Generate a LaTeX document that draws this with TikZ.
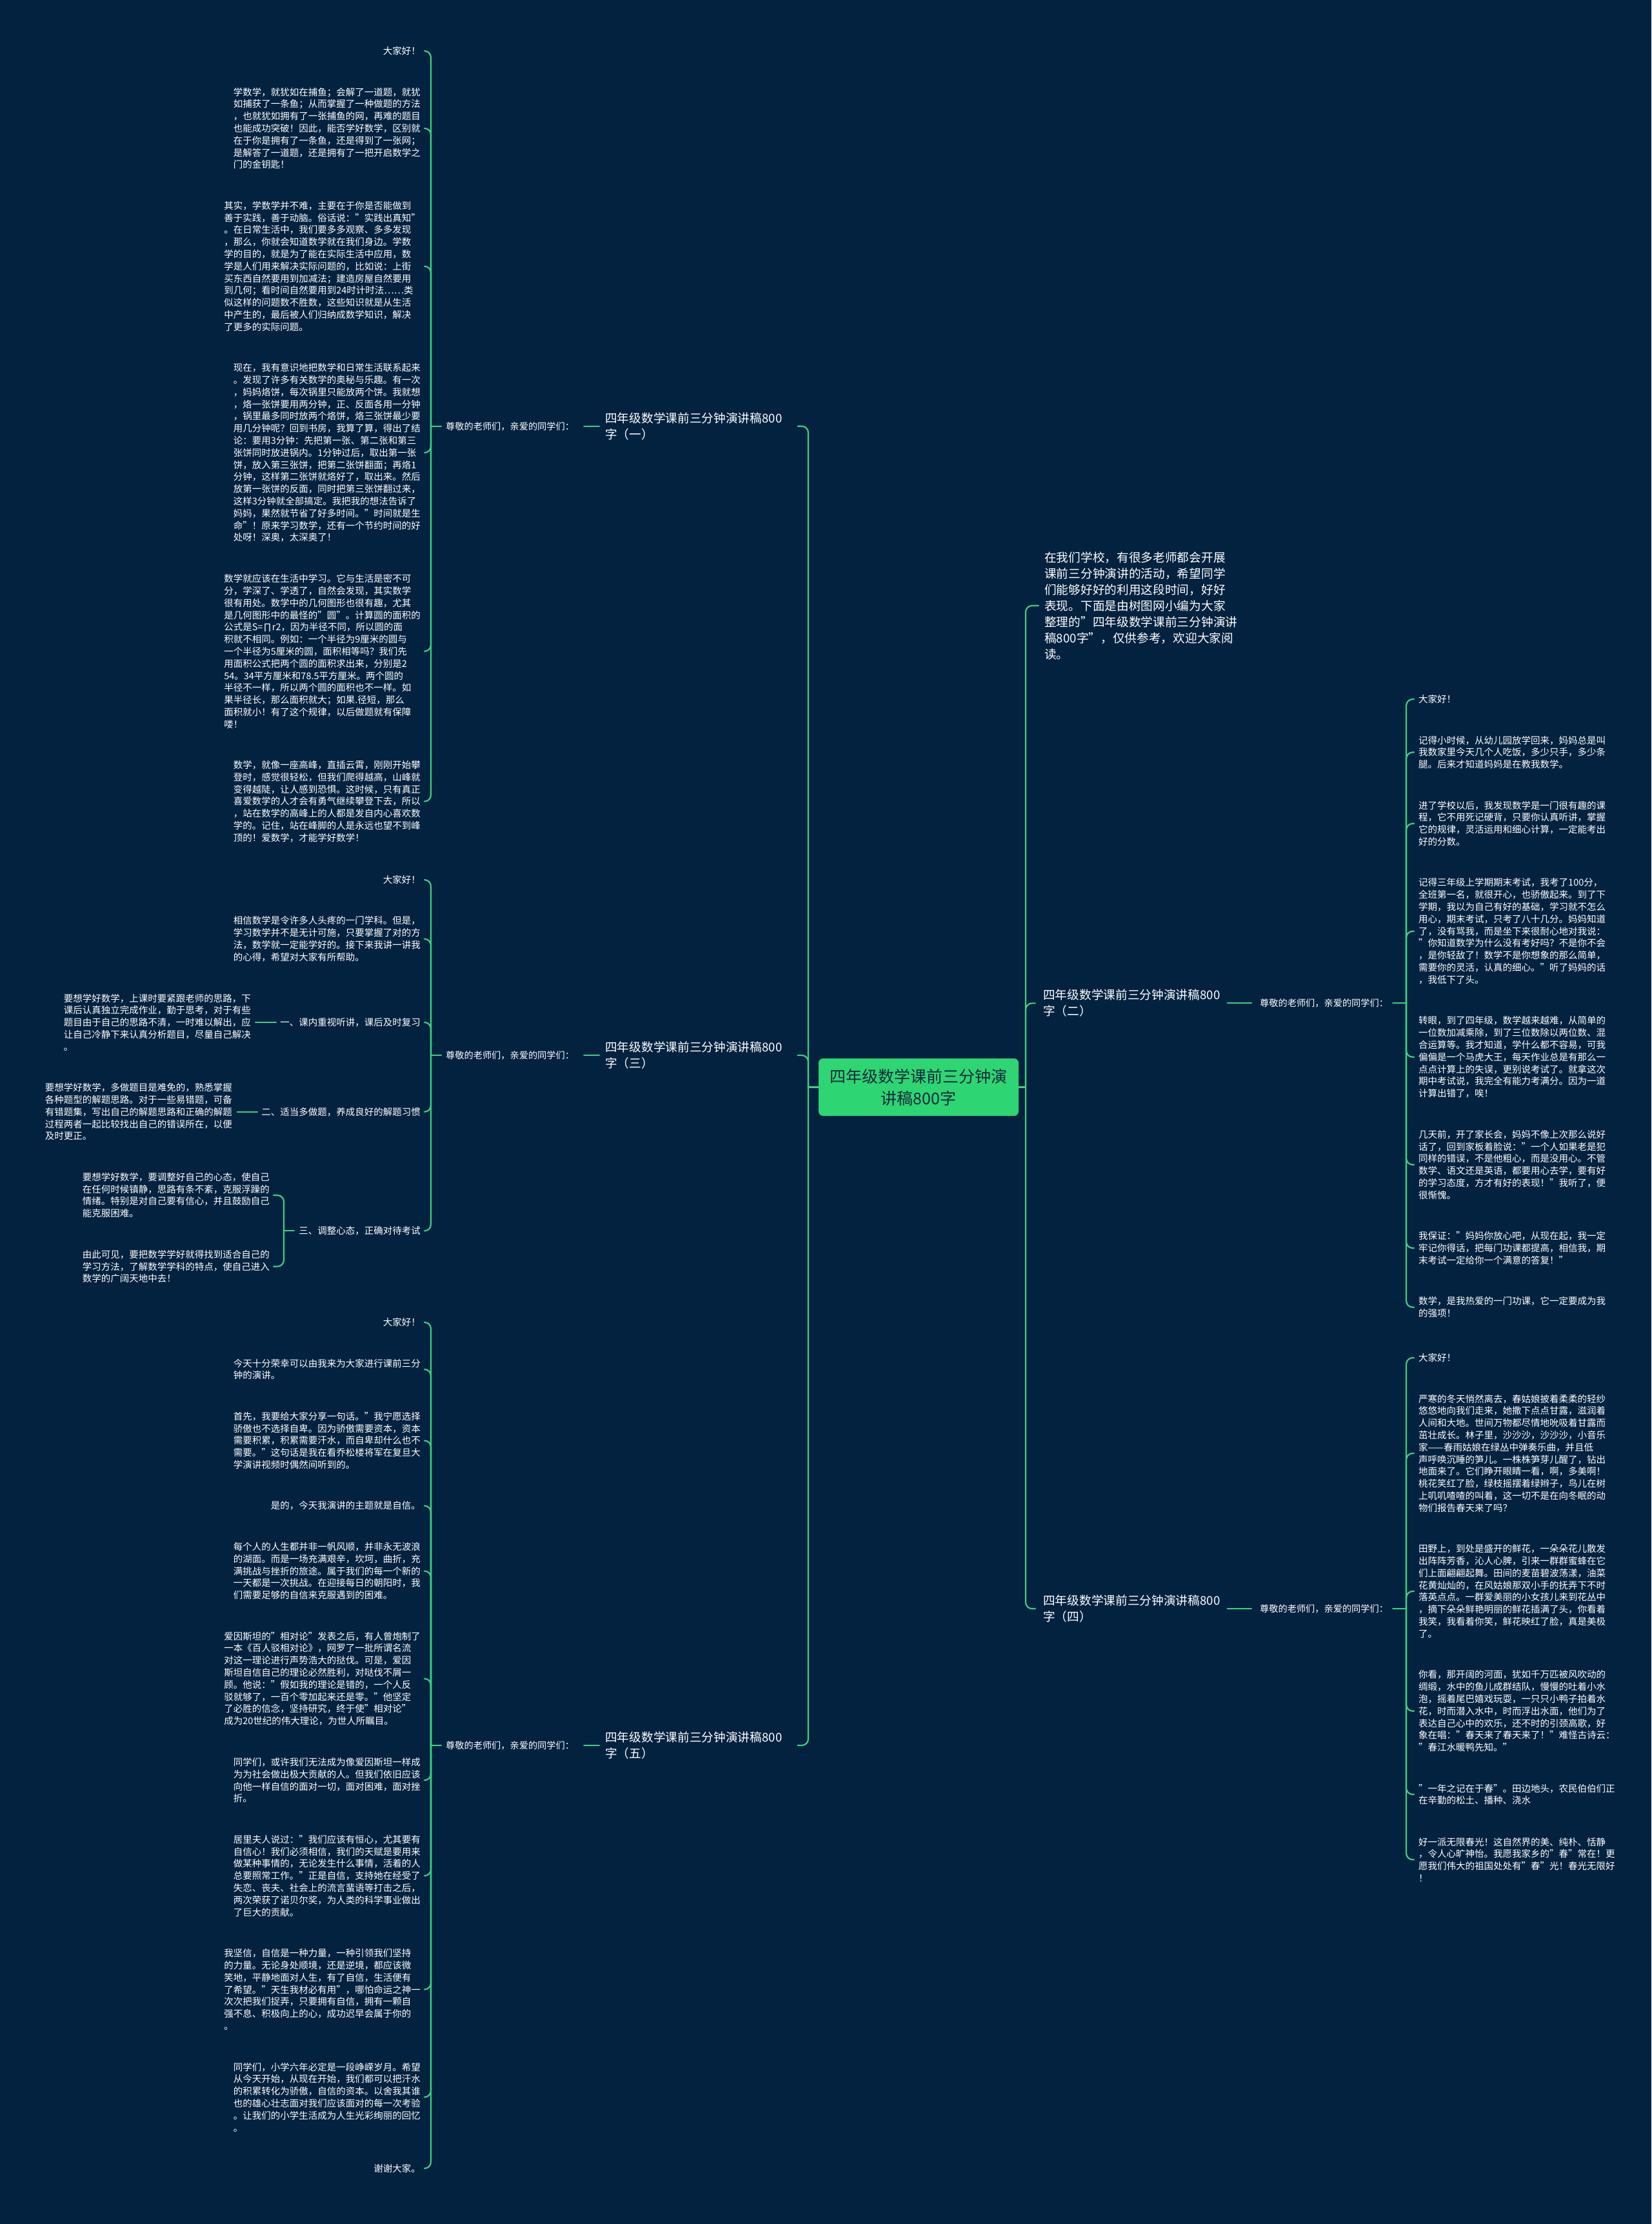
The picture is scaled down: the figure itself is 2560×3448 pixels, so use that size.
\documentclass[tikz,border=0pt]{standalone}
\usepackage{fontspec}
\setmainfont{Noto Sans CJK SC}
\usetikzlibrary{calc}
\definecolor{bg}{HTML}{02223F}
\definecolor{ln}{HTML}{3DD07E}
\definecolor{ctr}{HTML}{2ED573}
\definecolor{ctrtxt}{HTML}{16283A}
\tikzset{
  conn/.style={draw=ln, line width=2.2pt, rounded corners=10pt, line cap=round},
  body/.style={text=white, inner sep=0pt, align=left, font=\fontsize{14.5}{18.8}\selectfont},
  bL/.style={body, anchor=east},
  bR/.style={body, anchor=west},
  sub/.style={text=white, inner sep=0pt, font=\fontsize{14.2}{18}\selectfont},
  branch/.style={text=white, inner sep=0pt, align=left, anchor=west, font=\fontsize{18.7}{25}\selectfont},
  rootbox/.style={fill=ctr, rounded corners=7pt, minimum width=310pt, minimum height=89pt, inner sep=0pt, align=center, text=ctrtxt, font=\fontsize{25}{34}\selectfont}
}
\newcommand{\mmL}[4]{\draw[conn] (#3 |- #1.west) -- (#3 |- #2.east) -- ([xshift=#4]#2.east);}
\newcommand{\mmR}[4]{\draw[conn] (#3 |- #1.east) -- (#3 |- #2.west) -- ([xshift=-#4]#2.west);}
\begin{document}
\begin{tikzpicture}[x=1pt,y=-1pt]
\fill[bg] (0,0) rectangle (2560,3448);
\useasboundingbox (0,0) rectangle (2560,3448);
% bracket columns
\coordinate (kL) at (668,0);
\coordinate (kT) at (1253,0);
\coordinate (kR) at (1590,0);
\coordinate (kRR) at (2180,0);
\coordinate (k33) at (440,0);
% root
\node[rootbox] (root) at (1424,1685.5) {四年级数学课前三分钟演\\讲稿800字};
% ---------------- branch 1
\node[branch] (b1) at (938,660.75) {四年级数学课前三分钟演讲稿800\\字（一）};
\node[sub, anchor=west] (s1) at (691,660.75) {尊敬的老师们，亲爱的同学们：};
\node[bL] (a1) at (652,79) {大家好！};
\node[bL] (a2) at (652,198.9) {学数学，就犹如在捕鱼；会解了一道题，就犹\\
如捕获了一条鱼；从而掌握了一种做题的方法\\
，也就犹如拥有了一张捕鱼的网，再难的题目\\
也能成功突破！因此，能否学好数学，区别就\\
在于你是拥有了一条鱼，还是得到了一张网；\\
是解答了一道题，还是拥有了一把开启数学之\\
门的金钥匙！};
\node[bL] (a3) at (652,412.8) {其实，学数学并不难，主要在于你是否能做到\\
善于实践，善于动脑。俗话说："实践出真知"\\
。在日常生活中，我们要多多观察、多多发现\\
，那么，你就会知道数学就在我们身边。学数\\
学的目的，就是为了能在实际生活中应用，数\\
学是人们用来解决实际问题的，比如说：上街\\
买东西自然要用到加减法；建造房屋自然要用\\
到几何；看时间自然要用到24时计时法……类\\
似这样的问题数不胜数，这些知识就是从生活\\
中产生的，最后被人们归纳成数学知识，解决\\
了更多的实际问题。};
\node[bL] (a4) at (652,701.9) {现在，我有意识地把数学和日常生活联系起来\\
。发现了许多有关数学的奥秘与乐趣。有一次\\
，妈妈烙饼，每次锅里只能放两个饼。我就想\\
，烙一张饼要用两分钟，正、反面各用一分钟\\
，锅里最多同时放两个烙饼，烙三张饼最少要\\
用几分钟呢？回到书房，我算了算，得出了结\\
论：要用3分钟：先把第一张、第二张和第三\\
张饼同时放进锅内。1分钟过后，取出第一张\\
饼，放入第三张饼，把第二张饼翻面；再烙1\\
分钟，这样第二张饼就烙好了，取出来。然后\\
放第一张饼的反面，同时把第三张饼翻过来，\\
这样3分钟就全部搞定。我把我的想法告诉了\\
妈妈，果然就节省了好多时间。"时间就是生\\
命"！原来学习数学，还有一个节约时间的好\\
处呀！深奥，太深奥了！};
\node[bL] (a5) at (652,1009.8) {数学就应该在生活中学习。它与生活是密不可\\
分，学深了、学透了，自然会发现，其实数学\\
很有用处。数学中的几何图形也很有趣，尤其\\
是几何图形中的最怪的"圆"。计算圆的面积的\\
公式是S=∏r2，因为半径不同，所以圆的面\\
积就不相同。例如：一个半径为9厘米的圆与\\
一个半径为5厘米的圆，面积相等吗？我们先\\
用面积公式把两个圆的面积求出来，分别是2\\
54。34平方厘米和78.5平方厘米。两个圆的\\
半径不一样，所以两个圆的面积也不一样。如\\
果半径长，那么面积就大；如果.径短，那么\\
面积就小！有了这个规律，以后做题就有保障\\
喽！};
\node[bL] (a6) at (652,1242.5) {数学，就像一座高峰，直插云霄，刚刚开始攀\\
登时，感觉很轻松，但我们爬得越高，山峰就\\
变得越陡，让人感到恐惧。这时候，只有真正\\
喜爱数学的人才会有勇气继续攀登下去，所以\\
，站在数学的高峰上的人都是发自内心喜欢数\\
学的。记住，站在峰脚的人是永远也望不到峰\\
顶的！爱数学，才能学好数学！};
% ---------------- branch 3
\node[branch] (b3) at (938,1636.1) {四年级数学课前三分钟演讲稿800\\字（三）};
\node[sub, anchor=west] (s3) at (691,1636.1) {尊敬的老师们，亲爱的同学们：};
\node[bL] (c1) at (652,1364) {大家好！};
\node[bL] (c2) at (652,1455.7) {相信数学是令许多人头疼的一门学科。但是，\\
学习数学并不是无计可施，只要掌握了对的方\\
法，数学就一定能学好的。接下来我讲一讲我\\
的心得，希望对大家有所帮助。};
\node[bL] (t1) at (652,1585) {一、课内重视听讲，课后及时复习};
\node[bL] (u1) at (389,1585) {要想学好数学，上课时要紧跟老师的思路，下\\
课后认真独立完成作业，勤于思考，对于有些\\
题目由于自己的思路不清，一时难以解出，应\\
让自己冷静下来认真分析题目，尽量自己解决\\
。};
\node[bL] (t2) at (652,1723.7) {二、适当多做题，养成良好的解题习惯};
\node[bL] (u2) at (360,1723.7) {要想学好数学，多做题目是难免的，熟悉掌握\\
各种题型的解题思路。对于一些易错题，可备\\
有错题集，写出自己的解题思路和正确的解题\\
过程两者一起比较找出自己的错误所在，以便\\
及时更正。};
\node[bL] (t3) at (652,1908.3) {三、调整心态，正确对待考试};
\node[bL] (u3a) at (418,1853) {要想学好数学，要调整好自己的心态，使自己\\
在任何时候镇静，思路有条不紊，克服浮躁的\\
情绪。特别是对自己要有信心，并且鼓励自己\\
能克服困难。};
\node[bL] (u3b) at (418,1963.5) {由此可见，要把数学学好就得找到适合自己的\\
学习方法，了解数学学科的特点，使自己进入\\
数学的广阔天地中去！};
% ---------------- branch 5
\node[branch] (b5) at (938,2705.9) {四年级数学课前三分钟演讲稿800\\字（五）};
\node[sub, anchor=west] (s5) at (691,2705.9) {尊敬的老师们，亲爱的同学们：};
\node[bL] (e1) at (652,2050) {大家好！};
\node[bL] (e2) at (652,2122.9) {今天十分荣幸可以由我来为大家进行课前三分\\
钟的演讲。};
\node[bL] (e3) at (652,2233.4) {首先，我要给大家分享一句话。"我宁愿选择\\
骄傲也不选择自卑。因为骄傲需要资本，资本\\
需要积累，积累需要汗水，而自卑却什么也不\\
需要。"这句话是我在看乔松楼将军在复旦大\\
学演讲视频时偶然间听到的。};
\node[bL] (e4) at (652,2334.5) {是的，今天我演讲的主题就是自信。};
\node[bL] (e5) at (652,2435.6) {每个人的人生都并非一帆风顺，并非永无波浪\\
的湖面。而是一场充满艰辛，坎坷，曲折，充\\
满挑战与挫折的旅途。属于我们的每一个新的\\
一天都是一次挑战。在迎接每日的朝阳时，我\\
们需要足够的自信来克服遇到的困难。};
\node[bL] (e6) at (652,2602.5) {爱因斯坦的"相对论"发表之后，有人曾炮制了\\
一本《百人驳相对论》，网罗了一批所谓名流\\
对这一理论进行声势浩大的挞伐。可是，爱因\\
斯坦自信自己的理论必然胜利，对哒伐不屑一\\
顾。他说："假如我的理论是错的，一个人反\\
驳就够了，一百个零加起来还是零。"他坚定\\
了必胜的信念，坚持研究，终于使"相对论"\\
成为20世纪的伟大理论，为世人所瞩目。};
\node[bL] (e7) at (652,2760) {同学们，或许我们无法成为像爱因斯坦一样成\\
为为社会做出极大贡献的人。但我们依旧应该\\
向他一样自信的面对一切，面对困难，面对挫\\
折。};
\node[bL] (e8) at (652,2908.1) {居里夫人说过："我们应该有恒心，尤其要有\\
自信心！我们必须相信，我们的天赋是要用来\\
做某种事情的，无论发生什么事情，活着的人\\
总要照常工作。"正是自信，支持她在经受了\\
失恋、丧夫、社会上的流言蜚语等打击之后，\\
两次荣获了诺贝尔奖，为人类的科学事业做出\\
了巨大的贡献。};
\node[bL] (e9) at (652,3084.4) {我坚信，自信是一种力量，一种引领我们坚持\\
的力量。无论身处顺境，还是逆境，都应该微\\
笑地，平静地面对人生，有了自信，生活便有\\
了希望。"天生我材必有用"，哪怕命运之神一\\
次次把我们捉弄，只要拥有自信，拥有一颗自\\
强不息、积极向上的心，成功迟早会属于你的\\
。};
\node[bL] (e10) at (652,3251.3) {同学们，小学六年必定是一段峥嵘岁月。希望\\
从今天开始，从现在开始，我们都可以把汗水\\
的积累转化为骄傲，自信的资本。以舍我其谁\\
也的雄心壮志面对我们应该面对的每一次考验\\
。让我们的小学生活成为人生光彩绚丽的回忆\\
。};
\node[bL] (e11) at (652,3361.8) {谢谢大家。};
% ---------------- right: intro
\node[branch] (i0) at (1619,939) {在我们学校，有很多老师都会开展\\
课前三分钟演讲的活动，希望同学\\
们能够好好的利用这段时间，好好\\
表现。下面是由树图网小编为大家\\
整理的"四年级数学课前三分钟演讲\\
稿800字"，仅供参考，欢迎大家阅\\
读。};
% ---------------- branch 2
\node[branch] (b2) at (1617,1555.35) {四年级数学课前三分钟演讲稿800\\字（二）};
\node[sub, anchor=west] (s2) at (1953,1555.35) {尊敬的老师们，亲爱的同学们：};
\node[bR] (d1) at (2199,1084) {大家好！};
\node[bR] (d2) at (2199,1166.3) {记得小时候，从幼儿园放学回来，妈妈总是叫\\
我数家里今天几个人吃饭，多少只手，多少条\\
腿。后来才知道妈妈是在教我数学。};
\node[bR] (d3) at (2199,1276.8) {进了学校以后，我发现数学是一门很有趣的课\\
程，它不用死记硬背，只要你认真听讲，掌握\\
它的规律，灵活运用和细心计算，一定能考出\\
好的分数。};
\node[bR] (d4) at (2199,1443.7) {记得三年级上学期期末考试，我考了100分，\\
全班第一名，就很开心，也骄傲起来。到了下\\
学期，我以为自己有好的基础，学习就不怎么\\
用心，期末考试，只考了八十几分。妈妈知道\\
了，没有骂我，而是坐下来很耐心地对我说：\\
"你知道数学为什么没有考好吗？不是你不会\\
，是你轻敌了！数学不是你想象的那么简单，\\
需要你的灵活，认真的细心。"听了妈妈的话\\
，我低下了头。};
\node[bR] (d5) at (2199,1638.8) {转眼，到了四年级，数学越来越难，从简单的\\
一位数加减乘除，到了三位数除以两位数、混\\
合运算等。我才知道，学什么都不容易，可我\\
偏偏是一个马虎大王，每天作业总是有那么一\\
点点计算上的失误，更别说考试了。就拿这次\\
期中考试说，我完全有能力考满分。因为一道\\
计算出错了，唉！};
\node[bR] (d6) at (2199,1805.7) {几天前，开了家长会，妈妈不像上次那么说好\\
话了，回到家板着脸说："一个人如果老是犯\\
同样的错误，不是他粗心，而是没用心。不管\\
数学、语文还是英语，都要用心去学，要有好\\
的学习态度，方才有好的表现！"我听了，便\\
很惭愧。};
\node[bR] (d7) at (2199,1935) {我保证："妈妈你放心吧，从现在起，我一定\\
牢记你得话，把每门功课都提高，相信我，期\\
末考试一定给你一个满意的答复！"};
\node[bR] (d8) at (2199,2026.7) {数学，是我热爱的一门功课，它一定要成为我\\
的强项！};
% ---------------- branch 4
\node[branch] (b4) at (1617,2494.05) {四年级数学课前三分钟演讲稿800\\字（四）};
\node[sub, anchor=west] (s4) at (1953,2494.05) {尊敬的老师们，亲爱的同学们：};
\node[bR] (f1) at (2199,2105) {大家好！};
\node[bR] (f2) at (2199,2253.1) {严寒的冬天悄然离去，春姑娘披着柔柔的轻纱\\
悠悠地向我们走来，她撒下点点甘露，滋润着\\
人间和大地。世间万物都尽情地吮吸着甘露而\\
茁壮成长。林子里，沙沙沙，沙沙沙，小音乐\\
家——春雨姑娘在绿丛中弹奏乐曲，并且低\\
声呼唤沉睡的笋儿。一株株笋芽儿醒了，钻出\\
地面来了。它们睁开眼睛一看，啊，多美啊！\\
桃花笑红了脸，绿枝摇摆着绿辫子，鸟儿在树\\
上叽叽喳喳的叫着，这一切不是在向冬眠的动\\
物们报告春天来了吗？};
\node[bR] (f3) at (2199,2467) {田野上，到处是盛开的鲜花，一朵朵花儿散发\\
出阵阵芳香，沁人心脾，引来一群群蜜蜂在它\\
们上面翩翩起舞。田间的麦苗碧波荡漾，油菜\\
花黄灿灿的，在风姑娘那双小手的抚弄下不时\\
落英点点。一群爱美丽的小女孩儿来到花丛中\\
，摘下朵朵鲜艳明丽的鲜花插满了头，你看着\\
我笑，我看着你笑，鲜花映红了脸，真是美极\\
了。};
\node[bR] (f4) at (2199,2652.7) {你看，那开阔的河面，犹如千万匹被风吹动的\\
绸缎，水中的鱼儿成群结队，慢慢的吐着小水\\
泡，摇着尾巴嬉戏玩耍，一只只小鸭子拍着水\\
花，时而潜入水中，时而浮出水面，他们为了\\
表达自己心中的欢乐，还不时的引颈高歌，好\\
象在唱："春天来了春天来了！"难怪古诗云：\\
"春江水暖鸭先知。"};
\node[bR] (f5) at (2199,2782) {"一年之记在于春"。田边地头，农民伯伯们正\\
在辛勤的松土、播种、浇水};
\node[bR] (f6) at (2199,2883.1) {好一派无限春光！这自然界的美、纯朴、恬静\\
，令人心旷神怡。我愿我家乡的"春"常在！更\\
愿我们伟大的祖国处处有"春"光！春光无限好\\
！};
% ================= connectors
% trunks
\draw[conn] (root.west) -- (kT |- root.west);
\mmL{root}{b1}{kT}{24}
\mmL{root}{b3}{kT}{24}
\mmL{root}{b5}{kT}{24}
\draw[conn] (root.east) -- (kR |- root.east);
\mmR{root}{i0}{kR}{9}
\mmR{root}{b2}{kR}{12}
\mmR{root}{b4}{kR}{12}
% branch -> sub labels (left)
\draw[conn] ([xshift=15]s1.east) -- ([xshift=-9]b1.west);
\draw[conn] ([xshift=15]s3.east) -- ([xshift=-9]b3.west);
\draw[conn] ([xshift=15]s5.east) -- ([xshift=-9]b5.west);
% branch -> sub labels (right)
\draw[conn] ([xshift=11]b2.east) -- ([xshift=-13]s2.west);
\draw[conn] ([xshift=11]b4.east) -- ([xshift=-13]s4.west);
% sub label stubs
\draw[conn] ([xshift=-7]s1.west) -- (kL |- s1.west);
\draw[conn] ([xshift=-7]s3.west) -- (kL |- s3.west);
\draw[conn] ([xshift=-7]s5.west) -- (kL |- s5.west);
\draw[conn] ([xshift=7]s2.east) -- (kRR |- s2.east);
\draw[conn] ([xshift=7]s4.east) -- (kRR |- s4.east);
% children
\foreach \q in {a1,a2,a3,a4,a5,a6} {\mmL{s1}{\q}{kL}{6}}
\foreach \q in {c1,c2,t1,t2,t3} {\mmL{s3}{\q}{kL}{6}}
\foreach \q in {e1,e2,e3,e4,e5,e6,e7,e8,e9,e10,e11} {\mmL{s5}{\q}{kL}{6}}
\foreach \q in {d1,d2,d3,d4,d5,d6,d7,d8} {\mmR{s2}{\q}{kRR}{7}}
\foreach \q in {f1,f2,f3,f4,f5,f6} {\mmR{s4}{\q}{kRR}{7}}
% section 3 sub items
\draw[conn] ([xshift=-6]t1.west) -- ([xshift=7]u1.east);
\draw[conn] ([xshift=-6]t2.west) -- ([xshift=8]u2.east);
\draw[conn] ([xshift=-7]t3.west) -- (k33 |- t3.west);
\mmL{t3}{u3a}{k33}{6}
\mmL{t3}{u3b}{k33}{6}
\end{tikzpicture}
\end{document}
